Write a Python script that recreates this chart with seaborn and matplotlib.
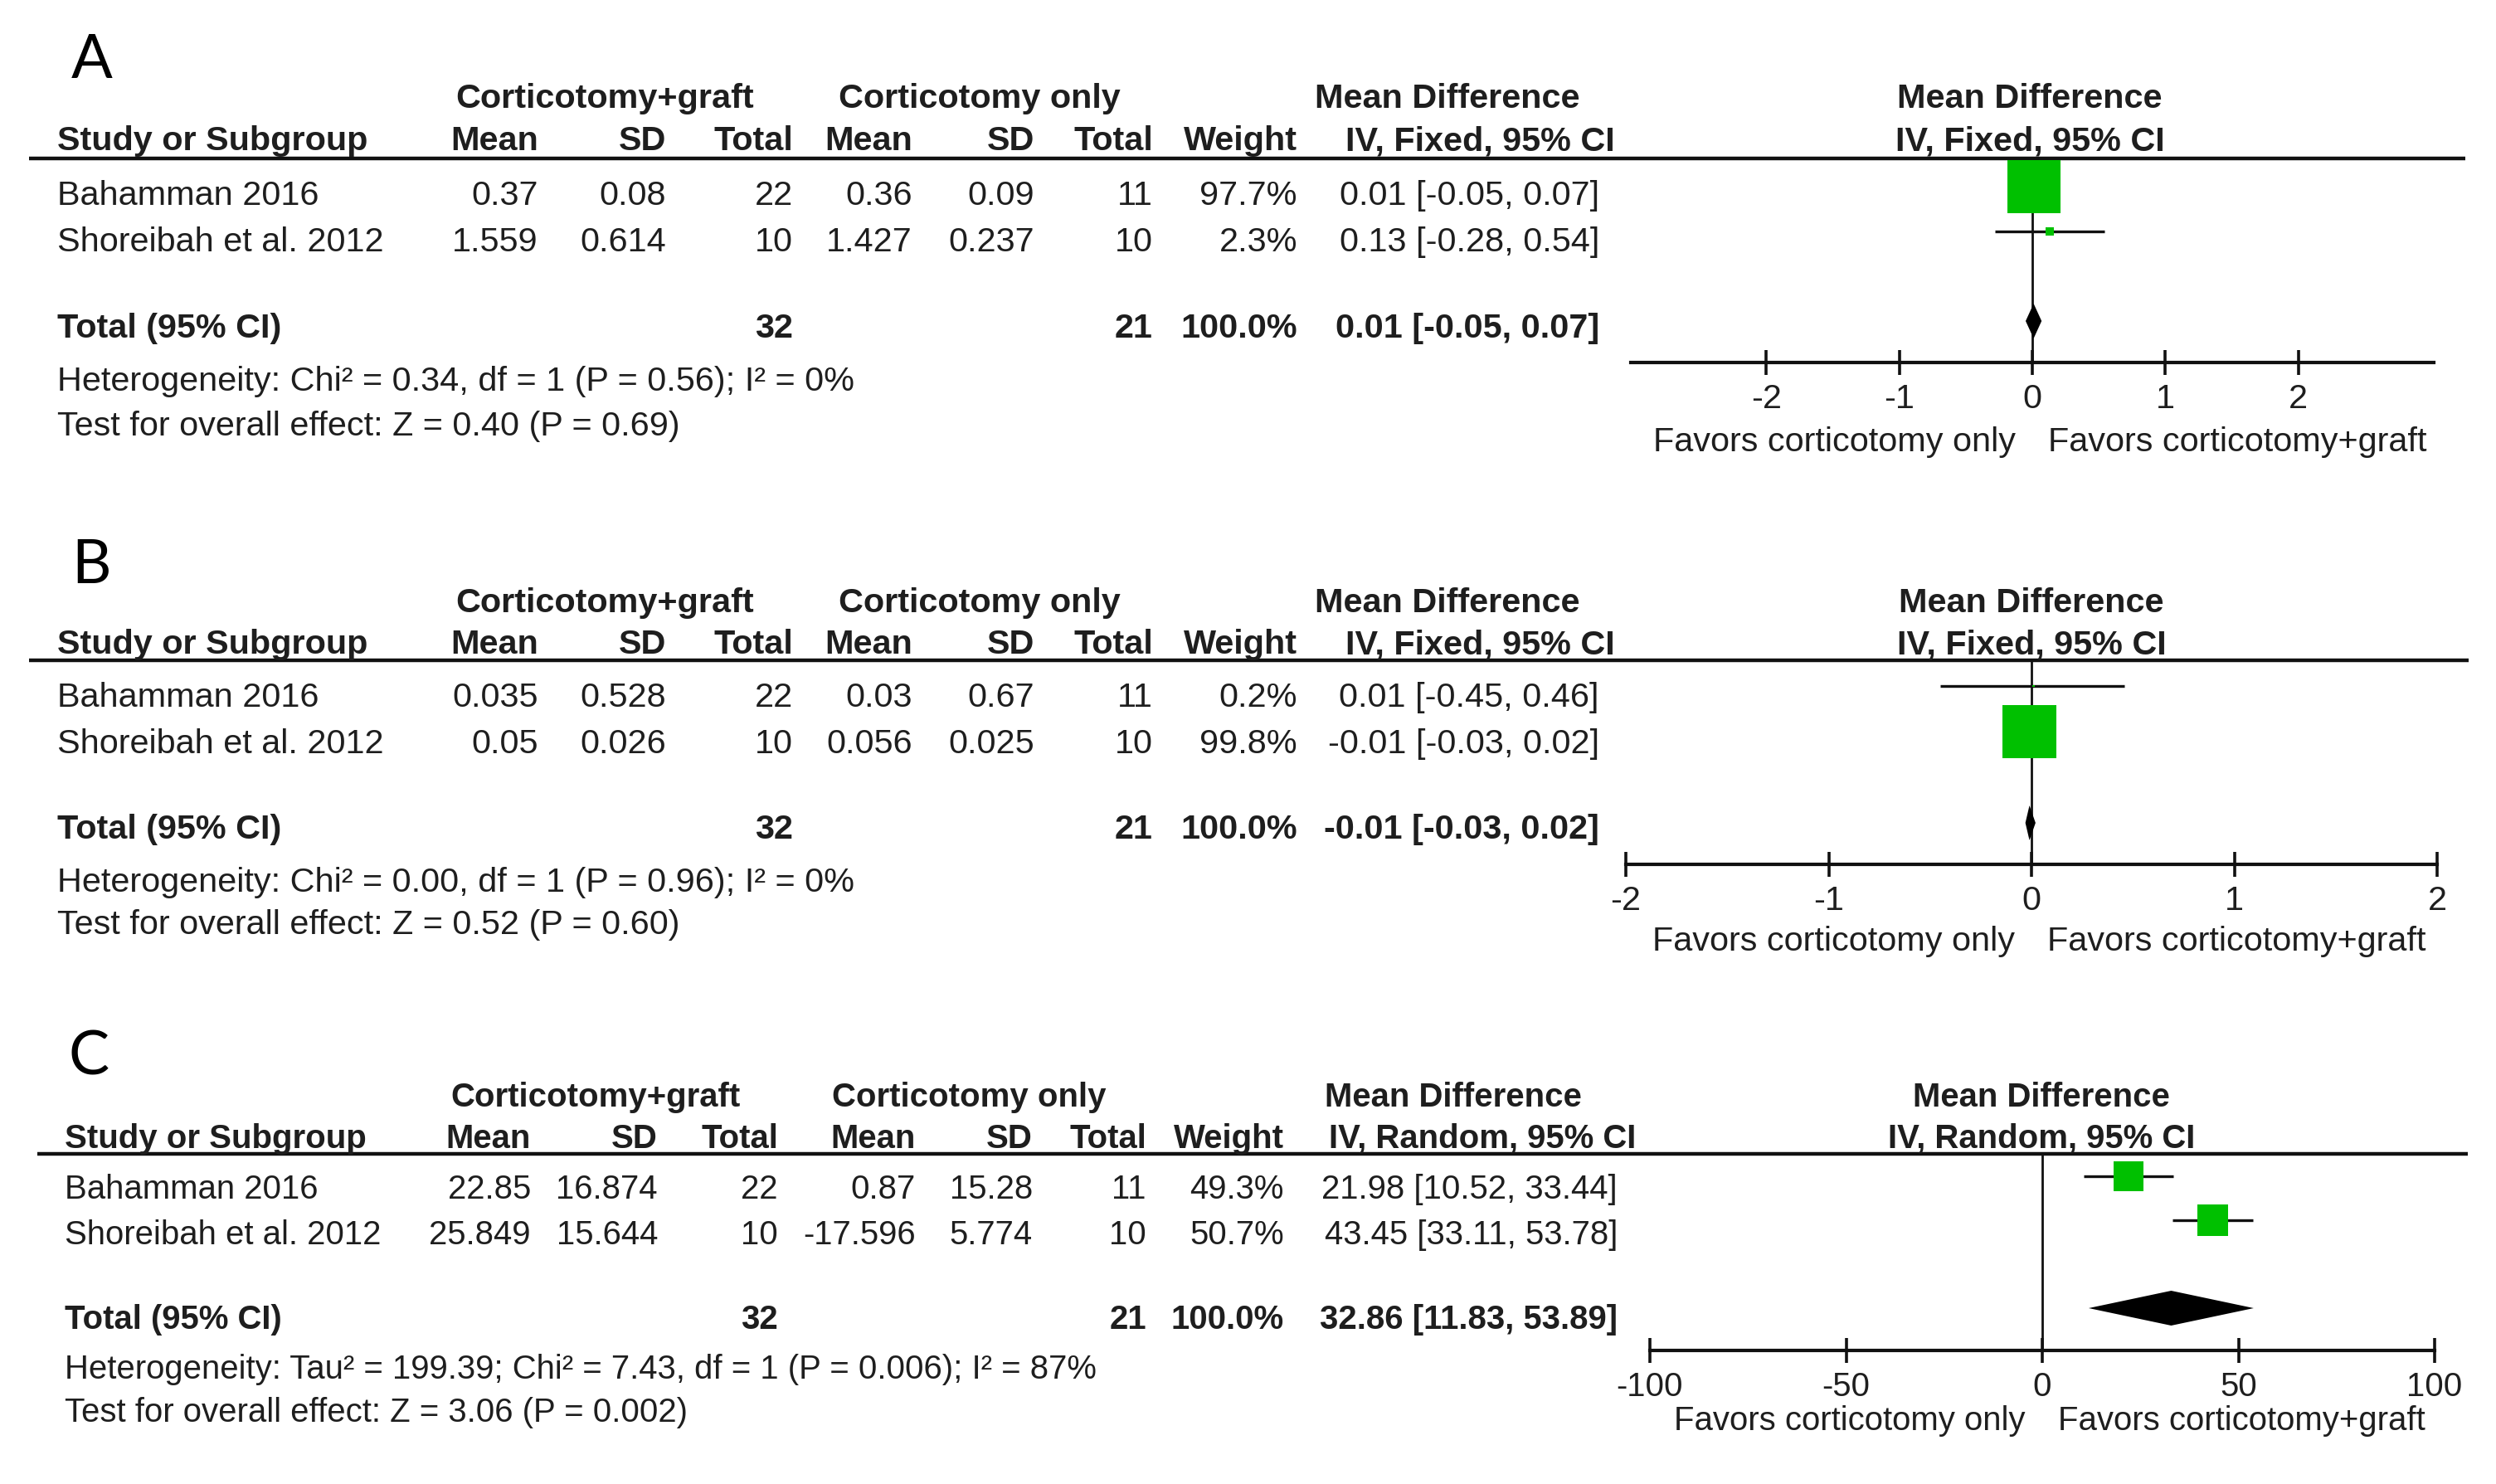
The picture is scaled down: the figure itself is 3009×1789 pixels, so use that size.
import matplotlib
matplotlib.use("Agg")
import matplotlib.pyplot as plt
import numpy as np
import pandas as pd
import seaborn as sns

# ---------------- data ----------------
studies = ["Bahamman 2016", "Shoreibah et al. 2012"]
grp_graft = "Corticotomy+graft"
grp_only = "Corticotomy only"
fav_left = "Favors corticotomy only"
fav_right = "Favors corticotomy+graft"

# Panel A
a_mean_g = [0.37, 1.559]
a_sd_g = [0.08, 0.614]
a_n_g = [22, 10]
a_mean_o = [0.36, 1.427]
a_sd_o = [0.09, 0.237]
a_n_o = [11, 10]
a_weight = [97.7, 2.3]
a_md = [0.01, 0.13]
a_lo = [-0.05, -0.28]
a_hi = [0.07, 0.54]
a_tot_n = [32, 21]
a_tot = [0.01, -0.05, 0.07]
a_method = "IV, Fixed, 95% CI"
a_het = "Heterogeneity: Chi² = 0.34, df = 1 (P = 0.56); I² = 0%"
a_test = "Test for overall effect: Z = 0.40 (P = 0.69)"
a_ticks = [-2, -1, 0, 1, 2]

# Panel B
b_mean_g = [0.035, 0.05]
b_sd_g = [0.528, 0.026]
b_n_g = [22, 10]
b_mean_o = [0.03, 0.056]
b_sd_o = [0.67, 0.025]
b_n_o = [11, 10]
b_weight = [0.2, 99.8]
b_md = [0.01, -0.01]
b_lo = [-0.45, -0.03]
b_hi = [0.46, 0.02]
b_tot_n = [32, 21]
b_tot = [-0.01, -0.03, 0.02]
b_method = "IV, Fixed, 95% CI"
b_het = "Heterogeneity: Chi² = 0.00, df = 1 (P = 0.96); I² = 0%"
b_test = "Test for overall effect: Z = 0.52 (P = 0.60)"
b_ticks = [-2, -1, 0, 1, 2]

# Panel C
c_mean_g = [22.85, 25.849]
c_sd_g = [16.874, 15.644]
c_n_g = [22, 10]
c_mean_o = [0.87, -17.596]
c_sd_o = [15.28, 5.774]
c_n_o = [11, 10]
c_weight = [49.3, 50.7]
c_md = [21.98, 43.45]
c_lo = [10.52, 33.11]
c_hi = [33.44, 53.78]
c_tot_n = [32, 21]
c_tot = [32.86, 11.83, 53.89]
c_method = "IV, Random, 95% CI"
c_het = "Heterogeneity: Tau² = 199.39; Chi² = 7.43, df = 1 (P = 0.006); I² = 87%"
c_test = "Test for overall effect: Z = 3.06 (P = 0.002)"
c_ticks = [-100, -50, 0, 50, 100]

# ---------------- style / layout ----------------
W, H = 3009, 1790
TXT = "#1e1e1e"
LINE = "#111111"
GREEN = "#00c000"

sns.set_theme(style="white")
plt.rcParams["font.family"] = ["Liberation Sans", "DejaVu Sans"]
plt.rcParams["axes.unicode_minus"] = False

cols_ab = dict(study=69, mean1=649, sd1=803, n1=956, mean2=1100, sd2=1247, n2=1390,
               weight=1564, ci=1928, grp1=729, grp2=1181, mdgrp=1745, mdsub=1784, letter=86)
cols_c = dict(study=78, mean1=640, sd1=793, n1=938, mean2=1104, sd2=1245, n2=1382,
              weight=1548, ci=1950, grp1=718, grp2=1168, mdgrp=1752, mdsub=1787, letter=83)

panels = [
    dict(letter="A", cols=cols_ab, mean_g=a_mean_g, sd_g=a_sd_g, n_g=a_n_g, mean_o=a_mean_o,
         sd_o=a_sd_o, n_o=a_n_o, weight=a_weight, md=a_md, lo=a_lo, hi=a_hi, tot_n=a_tot_n,
         tot=a_tot, method=a_method, het=a_het, test=a_test, ticks=a_ticks, fs=29.8,
         y=dict(letter=68, grp=116, hdr=167, line=192, r1=233, r2=289, tot=393, het=457,
                test=511, axis=438, fav=530, row0=226, step=54),
         lx=(35, 2972), fx=(1966, 2934), xlim=(-3.02, 3.02), k=6.47, fhdr=2447),
    dict(letter="B", cols=cols_ab, mean_g=b_mean_g, sd_g=b_sd_g, n_g=b_n_g, mean_o=b_mean_o,
         sd_o=b_sd_o, n_o=b_n_o, weight=b_weight, md=b_md, lo=b_lo, hi=b_hi, tot_n=b_tot_n,
         tot=b_tot, method=b_method, het=b_het, test=b_test, ticks=b_ticks, fs=29.8,
         y=dict(letter=677, grp=724, hdr=774, line=797, r1=838, r2=894, tot=997, het=1061,
                test=1112, axis=1043, fav=1132, row0=828, step=55),
         lx=(35, 2976), fx=(1960, 2938), xlim=(-2, 2), k=6.47, fhdr=2449),
    dict(letter="C", cols=cols_c, mean_g=c_mean_g, sd_g=c_sd_g, n_g=c_n_g, mean_o=c_mean_o,
         sd_o=c_sd_o, n_o=c_n_o, weight=c_weight, md=c_md, lo=c_lo, hi=c_hi, tot_n=c_tot_n,
         tot=c_tot, method=c_method, het=c_het, test=c_test, ticks=c_ticks, fs=28.9,
         y=dict(letter=1269, grp=1320, hdr=1370, line=1392, r1=1431, r2=1486, tot=1588, het=1648,
                test=1700, axis=1629, fav=1710, row0=1419, step=53),
         lx=(45, 2975), fx=(1989, 2935), xlim=(-100, 100), k=5.23, fhdr=2461),
]

fig = plt.figure(figsize=(W / 100, H / 100), dpi=100)
fig.patch.set_facecolor("white")
tab = fig.add_axes([0, 0, 1, 1])
tab.set_xlim(0, W)
tab.set_ylim(H, 0)
tab.axis("off")


def ci_str(m, l, h):
    return f"{m:.2f} [{l:.2f}, {h:.2f}]"


for P in panels:
    c = P["cols"]
    y = P["y"]
    fs = P["fs"]
    boff = 0.34 * fs * 100 / 72.0

    def put(x, yy, s, ha="left", bold=False):
        tab.text(x, yy + boff, s, ha=ha, va="baseline", fontsize=fs,
                 fontweight="bold" if bold else "normal", color=TXT)

    # panel letter
    tab.text(c["letter"], y["letter"] + 26, P["letter"], ha="left", va="baseline",
             fontsize=53, family=["Lato", "DejaVu Sans"], color="#000000")
    # group headers
    put(c["grp1"], y["grp"], grp_graft, ha="center", bold=True)
    put(c["grp2"], y["grp"], grp_only, ha="center", bold=True)
    put(c["mdgrp"], y["grp"], "Mean Difference", ha="center", bold=True)
    put(P["fhdr"], y["grp"], "Mean Difference", ha="center", bold=True)
    # column headers
    put(c["study"], y["hdr"], "Study or Subgroup", bold=True)
    for key, lab in [("mean1", "Mean"), ("sd1", "SD"), ("n1", "Total"), ("mean2", "Mean"),
                     ("sd2", "SD"), ("n2", "Total"), ("weight", "Weight")]:
        put(c[key], y["hdr"], lab, ha="right", bold=True)
    put(c["mdsub"], y["hdr"], P["method"], ha="center", bold=True)
    put(P["fhdr"], y["hdr"], P["method"], ha="center", bold=True)
    # header rule
    tab.plot(list(P["lx"]), [y["line"], y["line"]], color=LINE, lw=3.2, solid_capstyle="butt")
    # study rows
    for i, ry in enumerate([y["r1"], y["r2"]]):
        put(c["study"], ry, studies[i])
        put(c["mean1"], ry, str(P["mean_g"][i]), ha="right")
        put(c["sd1"], ry, str(P["sd_g"][i]), ha="right")
        put(c["n1"], ry, str(P["n_g"][i]), ha="right")
        put(c["mean2"], ry, str(P["mean_o"][i]), ha="right")
        put(c["sd2"], ry, str(P["sd_o"][i]), ha="right")
        put(c["n2"], ry, str(P["n_o"][i]), ha="right")
        put(c["weight"], ry, f"{P['weight'][i]:.1f}%", ha="right")
        put(c["ci"], ry, ci_str(P["md"][i], P["lo"][i], P["hi"][i]), ha="right")
    # total row
    put(c["study"], y["tot"], "Total (95% CI)", bold=True)
    put(c["n1"], y["tot"], str(P["tot_n"][0]), ha="right", bold=True)
    put(c["n2"], y["tot"], str(P["tot_n"][1]), ha="right", bold=True)
    put(c["weight"], y["tot"], f"{sum(P['weight']):.1f}%", ha="right", bold=True)
    put(c["ci"], y["tot"], ci_str(*P["tot"]), ha="right", bold=True)
    put(c["study"], y["het"], P["het"])
    put(c["study"], y["test"], P["test"])

    # ---------------- forest plot ----------------
    L, R = P["fx"]
    top, bot = y["line"], y["axis"]
    ax = fig.add_axes([L / W, 1 - bot / H, (R - L) / W, (bot - top) / H])
    ax.set_facecolor("none")
    df = pd.DataFrame({"md": P["md"], "lo": P["lo"], "hi": P["hi"], "row": [0, 1],
                       "weight": P["weight"]})
    df["s"] = (P["k"] * np.sqrt(df["weight"]) * 0.72) ** 2
    ax.axvline(0, color=LINE, lw=2.0, zorder=2)
    ax.hlines(df["row"], df["lo"], df["hi"], color=LINE, lw=2.4, zorder=3)
    sns.scatterplot(data=df, x="md", y="row", marker="s", s=df["s"].values, color=GREEN,
                    linewidth=0, ax=ax, legend=False, zorder=4)
    tm, tl, th = P["tot"]
    hh = 21.0 / y["step"]
    ax.fill([tl, tm, th, tm], [3, 3 - hh, 3, 3 + hh], color="black", lw=0, zorder=4)
    ax.set_xlim(P["xlim"])
    r0, st = y["row0"], y["step"]
    ax.set_ylim((bot - r0) / st, (top - r0) / st)
    ax.set_xlabel("")
    ax.set_ylabel("")
    for sp in ["top", "left", "right"]:
        ax.spines[sp].set_visible(False)
    ax.spines["bottom"].set_color(LINE)
    ax.spines["bottom"].set_linewidth(3.0)
    ax.set_xticks(P["ticks"])
    ax.set_xticklabels([str(t) for t in P["ticks"]])
    ax.tick_params(axis="x", bottom=True, direction="inout", length=22, width=2.6,
                   color=LINE, labelsize=fs, labelcolor=TXT, pad=6)
    ax.tick_params(axis="y", left=False, labelleft=False)
    x0 = L + (0 - P["xlim"][0]) / (P["xlim"][1] - P["xlim"][0]) * (R - L)
    put(x0 - 20, y["fav"], fav_left, ha="right")
    put(x0 + 19, y["fav"], fav_right, ha="left")

fig.savefig("out.png", dpi=100, facecolor="white")
